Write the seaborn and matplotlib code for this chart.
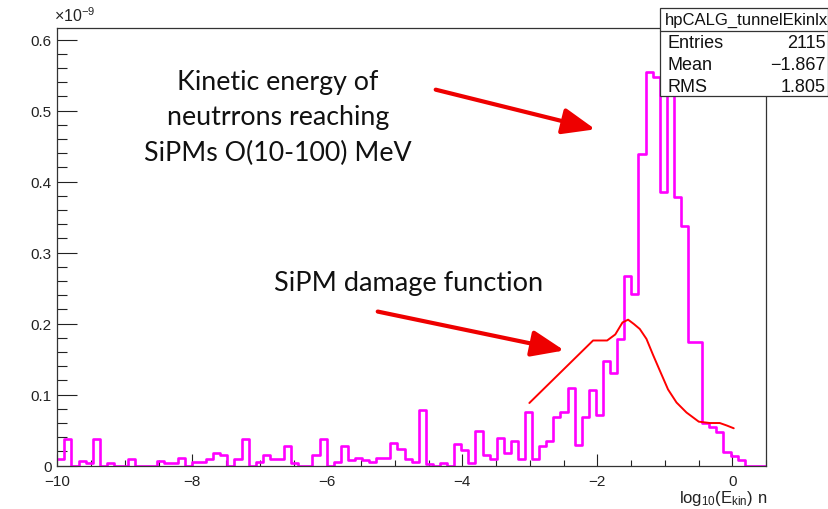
import numpy as np
import pandas as pd
import matplotlib
matplotlib.use("Agg")
import matplotlib.pyplot as plt
import seaborn as sns
from matplotlib.patches import FancyArrowPatch, Rectangle
from matplotlib.lines import Line2D
from matplotlib.ticker import MultipleLocator, FixedLocator

# ---------------- data ----------------
bin_lo, bin_hi, n_bins = -10.0, 0.5, 100
counts = [
    0.010, 0.037, 0.000, 0.007, 0.004, 0.037, 0.000, 0.004, 0.000, 0.000,
    0.009, 0.000, 0.000, 0.000, 0.007, 0.004, 0.004, 0.011, 0.000, 0.005,
    0.005, 0.009, 0.018, 0.015, 0.000, 0.009, 0.037, 0.000, 0.005, 0.015,
    0.009, 0.009, 0.028, 0.004, 0.000, 0.000, 0.015, 0.038, 0.000, 0.005,
    0.028, 0.008, 0.011, 0.008, 0.005, 0.011, 0.011, 0.032, 0.024, 0.009,
    0.005, 0.078, 0.002, 0.000, 0.004, 0.000, 0.031, 0.022, 0.004, 0.049,
    0.015, 0.010, 0.0385, 0.018, 0.035, 0.010, 0.075, 0.009, 0.028, 0.035,
    0.069, 0.076, 0.110, 0.029, 0.069, 0.107, 0.071, 0.148, 0.131, 0.178,
    0.267, 0.242, 0.439, 0.555, 0.548, 0.385, 0.588, 0.378, 0.337, 0.174,
    0.174, 0.060, 0.055, 0.048, 0.019, 0.013, 0.008, 0.000, 0.000, 0.000,
]
damage_x = [-3.006, -2.062, -1.854, -1.733, -1.626, -1.543, -1.459, -1.370,
            -1.271, -1.173, -1.074, -0.951, -0.826, -0.678, -0.496, -0.333,
            -0.185, -0.081, 0.022]
damage_y = [0.0883, 0.1763, 0.1763, 0.1848, 0.2017, 0.2056, 0.1996, 0.1925,
            0.1785, 0.1559, 0.1341, 0.1073, 0.0890, 0.0749, 0.0620, 0.0601,
            0.0601, 0.0566, 0.0527]
x_ticks = [-10, -8, -6, -4, -2, 0]
x_tick_labels = ["\u221210", "\u22128", "\u22126", "\u22124", "\u22122", "0"]
y_ticks = [0, 0.1, 0.2, 0.3, 0.4, 0.5, 0.6]
y_tick_labels = ["0", "0.1", "0.2", "0.3", "0.4", "0.5", "0.6"]
stats_title = "hpCALG_tunnelEkinlx"
stats_names = ["Entries", "Mean", "RMS"]
stats_values = ["2115", "\u22121.867", "1.805"]
note_top = "Kinetic energy of\nneutrrons reaching\nSiPMs O(10-100) MeV"
note_bottom = "SiPM damage function"

# ---------------- style ----------------
sns.set_theme(style="white")
plt.rcParams["font.family"] = ["Liberation Sans", "DejaVu Sans"]
plt.rcParams["mathtext.fontset"] = "custom"
plt.rcParams["mathtext.rm"] = "Liberation Sans"
plt.rcParams["mathtext.it"] = "Liberation Sans:italic"
plt.rcParams["mathtext.bf"] = "Liberation Sans:bold"

W, H = 829, 510
fig = plt.figure(figsize=(W / 100, H / 100), dpi=100)
fig.patch.set_facecolor("white")

def fx(px):
    return px / W

def fy(py):
    return 1 - py / H

ax_l, ax_r, ax_t, ax_b = 57.3, 766.0, 28.5, 466.7
ax = fig.add_axes([fx(ax_l), fy(ax_b), (ax_r - ax_l) / W, (ax_b - ax_t) / H])
ax.set_facecolor("white")

df = pd.DataFrame({"x": np.linspace(bin_lo, bin_hi, n_bins + 1)[:-1]
                   + (bin_hi - bin_lo) / n_bins / 2,
                   "w": counts})
sns.histplot(data=df, x="x", weights="w", bins=n_bins,
             binrange=(bin_lo, bin_hi), element="step",
             fill=False, color="#ff00ff", linewidth=1.9, ax=ax)
sns.lineplot(x=damage_x, y=damage_y, color="#ff0000", linewidth=1.4,
             sort=False, ax=ax)

ax.set_xlim(bin_lo, bin_hi)
ax.set_ylim(0, 0.617)
ax.set_xlabel("")
ax.set_ylabel("")

ax.xaxis.set_major_locator(FixedLocator(x_ticks))
ax.set_xticklabels(x_tick_labels)
ax.xaxis.set_minor_locator(MultipleLocator(0.5))
ax.yaxis.set_major_locator(FixedLocator(y_ticks))
ax.set_yticklabels(y_tick_labels)
ax.yaxis.set_minor_locator(MultipleLocator(0.02))
ax.tick_params(axis="both", which="both", direction="in", colors="#222222",
               labelcolor="#222222", labelsize=11, width=0.8,
               top=False, right=False, bottom=True, left=True)
ax.tick_params(axis="x", which="major", length=8.6, pad=6)
ax.tick_params(axis="x", which="minor", length=4.3)
ax.tick_params(axis="y", which="major", length=14.4, pad=4)
ax.tick_params(axis="y", which="minor", length=7.2)
for s in ax.spines.values():
    s.set_visible(True)
    s.set_color("#333333")
    s.set_linewidth(0.9)

# axis annotations
fig.text(fx(767), fy(499), r"log$_{10}$(E$_{\mathrm{kin}}$) n", ha="right",
         va="center", fontsize=12, color="#222222")
fig.text(fx(54), fy(16), r"$\times$10$^{-9}$", ha="left", va="center",
         fontsize=11.5, color="#222222")

# stats box
bx0, by0, bx1, by1 = 660, 9, 828, 97
fig.patches.append(Rectangle((fx(bx0), fy(by1)), (bx1 - bx0) / W,
                             (by1 - by0) / H, transform=fig.transFigure,
                             facecolor="white", edgecolor="#333333",
                             linewidth=0.9, zorder=5))
fig.lines.append(Line2D([fx(bx0), fx(bx1)], [fy(31.5), fy(31.5)],
                        transform=fig.transFigure, color="#333333",
                        linewidth=0.9, zorder=6))
fig.text(fx(747), fy(20), stats_title, ha="center", va="center",
         fontsize=12, color="#111111", zorder=7)
for i, (nm, vl) in enumerate(zip(stats_names, stats_values)):
    yy = 44 + i * 21.5
    fig.text(fx(668), fy(yy), nm, ha="left", va="center", fontsize=13,
             color="#111111", zorder=7)
    fig.text(fx(826), fy(yy), vl, ha="right", va="center", fontsize=13,
             color="#111111", zorder=7)

# notes with arrows
fig.text(fx(278), fy(118), note_top, ha="center", va="center",
         fontsize=19.3, linespacing=1.5, color="#111111",
         family=["Lato", "DejaVu Sans"])
fig.text(fx(409), fy(283), note_bottom, ha="center", va="center",
         fontsize=19.5, color="#111111", family=["Lato", "DejaVu Sans"])
for (x0, y0, x1, y1) in [(433, 90, 598, 131), (375, 312, 567, 352)]:
    fig.patches.append(FancyArrowPatch((fx(x0), fy(y0)), (fx(x1), fy(y1)),
                                       transform=fig.transFigure,
                                       arrowstyle="-|>,head_length=20,head_width=8",
                                       color="#ee0000", linewidth=3.0,
                                       mutation_scale=1, zorder=8))

fig.savefig("out.png", dpi=100, facecolor="white")
